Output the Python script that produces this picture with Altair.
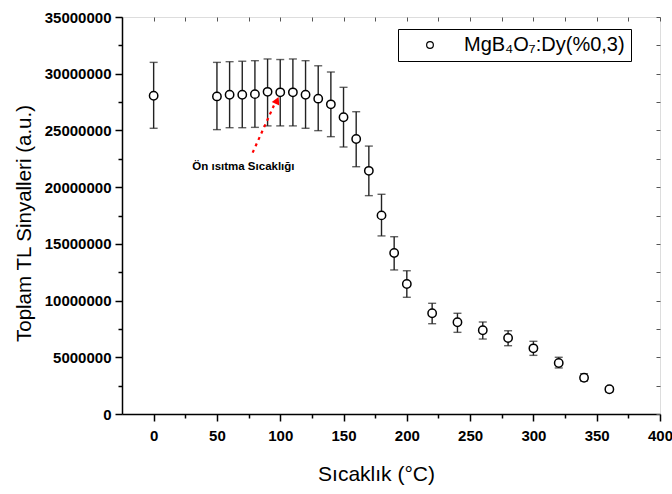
import altair as alt
import pandas as pd

# ---------------- data ----------------
temps = [0, 50, 60, 70, 80, 90, 100, 110, 120, 130, 140, 150, 160, 170,
         180, 190, 200, 220, 240, 260, 280, 300, 320, 340, 360]
signal_m = [28.06, 28.00, 28.15, 28.15, 28.20, 28.40, 28.36, 28.36, 28.15, 27.80,
            27.30, 26.16, 24.24, 21.44, 17.51, 14.19, 11.46, 8.88, 8.09, 7.38,
            6.70, 5.79, 4.50, 3.20, 2.18]
upper_m = [31.00, 31.00, 31.06, 31.10, 31.15, 31.30, 31.25, 31.30, 31.15, 30.70,
           30.15, 28.80, 26.65, 23.62, 19.37, 15.63, 12.63, 9.76, 8.88, 8.11,
           7.34, 6.41, 5.00, 3.55, 2.40]
lower_m = [25.19, 25.07, 25.24, 25.24, 25.27, 25.40, 25.40, 25.40, 25.19, 24.98,
           24.45, 23.54, 21.80, 19.25, 15.70, 12.70, 10.29, 7.96, 7.20, 6.61,
           6.02, 5.17, 4.06, 2.91, 1.94]
series_name = "MgB₄O₇:Dy(%0,3)"

x_major_ticks = [0, 50, 100, 150, 200, 250, 300, 350, 400]
x_minor_ticks = [25, 75, 125, 175, 225, 275, 325, 375]
x_all_ticks = [-25 + 25 * i for i in range(18)]
y_major_ticks = [0, 5000000, 10000000, 15000000, 20000000, 25000000, 30000000, 35000000]
y_minor_ticks = [2500000, 7500000, 12500000, 17500000, 22500000, 27500000, 32500000]
y_all_ticks = [2500000 * i for i in range(15)]

annot_text = ["Ön ısıtma Sıcaklığı"]
annot_x = [70.9]
annot_y = [21.78e6]
arrow_x = [78.2, 95.0]
arrow_y = [23.04e6, 27.20e6]
head_x = [97.5]
head_y = [27.65e6]

# ---------------- tables ----------------
df = pd.DataFrame({
    "T": temps,
    "S": [v * 1e6 for v in signal_m],
    "hi": [v * 1e6 for v in upper_m],
    "lo": [v * 1e6 for v in lower_m],
    "series": series_name,
})
df_text = pd.DataFrame({"x": annot_x, "y": annot_y, "t": annot_text})
df_arrow = pd.DataFrame({"x": arrow_x, "y": arrow_y})
df_head = pd.DataFrame({"x": head_x, "y": head_y})

FONT = "Liberation Sans"
W, H = 538, 397
xscale = alt.Scale(domain=[-25, 400], nice=False, zero=False)
yscale = alt.Scale(domain=[0, 35000000], nice=False, zero=False)

x_major = alt.Axis(orient="bottom", values=x_major_ticks, tickSize=7, tickWidth=1.5,
                   tickColor="black", domainColor="black", domainWidth=1.5,
                   labelFont=FONT, labelFontSize=15, labelFontWeight="bold",
                   labelColor="black", labelPadding=7, labelFlush=False,
                   labelOverlap=False, grid=False,
                   title="Sıcaklık (°C)", titleFont=FONT, titleFontSize=21,
                   titleFontWeight="normal", titleColor="black", titlePadding=20,
                   titleX=254)
y_major = alt.Axis(orient="left", values=y_major_ticks, format="d", tickSize=7,
                   tickWidth=1.5, tickColor="black", domainColor="black",
                   domainWidth=1.5, labelFont=FONT, labelFontSize=15,
                   labelFontWeight="bold", labelColor="black", labelPadding=4,
                   labelFlush=False, labelOverlap=False, grid=False,
                   title="Toplam TL Sinyalleri (a.u.)", titleFont=FONT,
                   titleFontSize=20.5, titleFontWeight="normal", titleColor="black",
                   titlePadding=10, titleY=206)
x_minor = alt.Axis(orient="bottom", values=x_minor_ticks, tickSize=4, tickWidth=1.5,
                   tickColor="black", labels=False, domain=False, grid=False, title=None)
y_minor = alt.Axis(orient="left", values=y_minor_ticks, tickSize=4, tickWidth=1.5,
                   tickColor="black", labels=False, domain=False, grid=False, title=None)
x_top = alt.Axis(orient="bottom", offset=-H, values=x_all_ticks, tickSize=4,
                 tickWidth=1, tickColor="#555555", labels=False, domain=False,
                 grid=False, title=None)
y_right = alt.Axis(orient="left", offset=-W, values=y_all_ticks, tickSize=4,
                   tickWidth=1, tickColor="#555555", labels=False, domain=False,
                   grid=False, title=None)

base = alt.Chart(df)
ERR = "#222222"

err = base.mark_rule(color=ERR, strokeWidth=1.4).encode(
    x=alt.X("T:Q", scale=xscale, axis=x_major),
    y=alt.Y("lo:Q", scale=yscale, axis=y_major),
    y2="hi:Q",
)
cap_hi = base.mark_tick(color=ERR, orient="horizontal", size=8, thickness=1.4).encode(
    x=alt.X("T:Q", scale=xscale, axis=None),
    y=alt.Y("hi:Q", scale=yscale, axis=None),
)
cap_lo = base.mark_tick(color=ERR, orient="horizontal", size=8, thickness=1.4).encode(
    x=alt.X("T:Q", scale=xscale, axis=None),
    y=alt.Y("lo:Q", scale=yscale, axis=None),
)
minor = base.mark_point(opacity=0).encode(
    x=alt.X("T:Q", scale=xscale, axis=x_minor),
    y=alt.Y("S:Q", scale=yscale, axis=y_minor),
)
frame_ticks = base.mark_point(opacity=0).encode(
    x=alt.X("T:Q", scale=xscale, axis=x_top),
    y=alt.Y("S:Q", scale=yscale, axis=y_right),
)
points = base.mark_point(filled=False, shape="circle", fill="white", strokeWidth=1.5,
                         size=70, opacity=1).encode(
    x=alt.X("T:Q", scale=xscale, axis=None),
    y=alt.Y("S:Q", scale=yscale, axis=None),
    color=alt.Color("series:N", scale=alt.Scale(range=["black"]),
                    legend=alt.Legend(title=None, orient="none", legendX=276,
                                      legendY=12, padding=6, strokeColor="black",
                                      fillColor="white", labelFont=FONT,
                                      labelFontSize=20, labelColor="black",
                                      labelLimit=400, symbolType="circle",
                                      symbolSize=45, symbolFillColor="white",
                                      symbolStrokeColor="black", symbolOpacity=1,
                                      symbolStrokeWidth=1.2, symbolOffset=16,
                                      labelOffset=24, cornerRadius=0)),
)
arrow_line = alt.Chart(df_arrow).mark_line(color="red", strokeWidth=2.2,
                                           strokeDash=[3, 4]).encode(
    x=alt.X("x:Q", scale=xscale, axis=None),
    y=alt.Y("y:Q", scale=yscale, axis=None),
)
arrow_head = alt.Chart(df_head).mark_point(
    shape="triangle-up", filled=True, color="red", size=70,
    angle=25, opacity=1).encode(
    x=alt.X("x:Q", scale=xscale, axis=None),
    y=alt.Y("y:Q", scale=yscale, axis=None),
)
label = alt.Chart(df_text).mark_text(font=FONT, fontSize=11.5, fontWeight="bold",
                                     color="black").encode(
    x=alt.X("x:Q", scale=xscale, axis=None),
    y=alt.Y("y:Q", scale=yscale, axis=None),
    text="t:N",
)

chart = alt.layer(
    frame_ticks, minor, err, cap_hi, cap_lo, points, arrow_line, arrow_head, label
).resolve_axis(x="independent", y="independent").properties(
    width=W, height=H,
    autosize=alt.AutoSizeParams(type="none"),
    padding={"left": 122, "top": 17, "right": 12, "bottom": 80},
).configure_view(stroke="black", strokeWidth=1.5).configure(background="white")

chart.save("out.html", embed_options={"renderer": "svg", "actions": False})
